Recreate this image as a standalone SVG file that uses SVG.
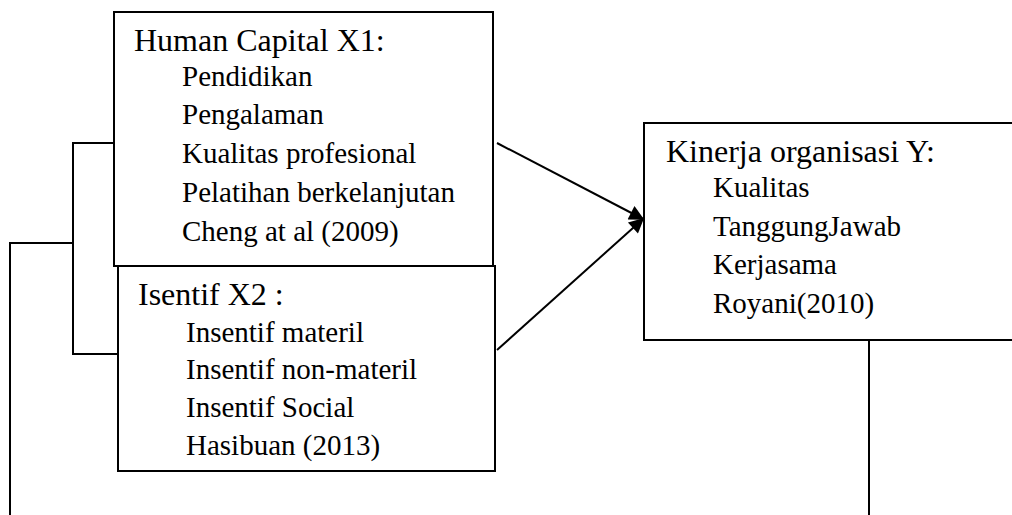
<svg xmlns="http://www.w3.org/2000/svg" width="1012" height="515" viewBox="0 0 1012 515">
<defs>
<style>
.box{fill:#fff;stroke:#000;stroke-width:2}
.ln{fill:none;stroke:#000;stroke-width:2}
text{font-family:"Liberation Serif","Times New Roman",serif;font-size:29px;fill:#000}
text.h{font-size:32px}
</style>
<marker id="ah" viewBox="0 0 10 10" refX="9" refY="5" markerWidth="18" markerHeight="15" orient="auto" markerUnits="userSpaceOnUse">
<path d="M0,0 L10,5 L0,10 z" fill="#000"/>
</marker>
</defs>
<rect width="1012" height="515" fill="#fff"/>
<g id="connectors">
<polyline class="ln" points="114,143 73,143 73,354 118,354"/>
<polyline class="ln" points="72,243 10,243 10,515"/>
<line class="ln" x1="869" y1="340" x2="869" y2="515"/>
<line class="ln" x1="497" y1="143" x2="643" y2="219" marker-end="url(#ah)"/>
<line class="ln" x1="497" y1="350" x2="643" y2="219" marker-end="url(#ah)"/>
</g>
<g id="human-capital">
<rect class="box" x="114" y="12" width="379" height="254"/>
<text class="h" x="134" y="51">Human Capital X1:</text>
<text x="182" y="86">Pendidikan</text>
<text x="182" y="124">Pengalaman</text>
<text x="182" y="163">Kualitas profesional</text>
<text x="182" y="202">Pelatihan berkelanjutan</text>
<text x="182" y="241">Cheng at al (2009)</text>
</g>
<g id="insentif">
<rect class="box" x="118" y="266" width="377" height="205"/>
<text class="h" x="138" y="305">Isentif X2 :</text>
<text x="186" y="342">Insentif materil</text>
<text x="186" y="379">Insentif non-materil</text>
<text x="186" y="417">Insentif Social</text>
<text x="186" y="455">Hasibuan (2013)</text>
</g>
<g id="kinerja">
<rect class="box" x="644" y="123" width="380" height="217"/>
<text class="h" x="666" y="162">Kinerja organisasi Y:</text>
<text x="713" y="197">Kualitas</text>
<text x="713" y="236">TanggungJawab</text>
<text x="713" y="274">Kerjasama</text>
<text x="713" y="313">Royani(2010)</text>
</g>
</svg>
